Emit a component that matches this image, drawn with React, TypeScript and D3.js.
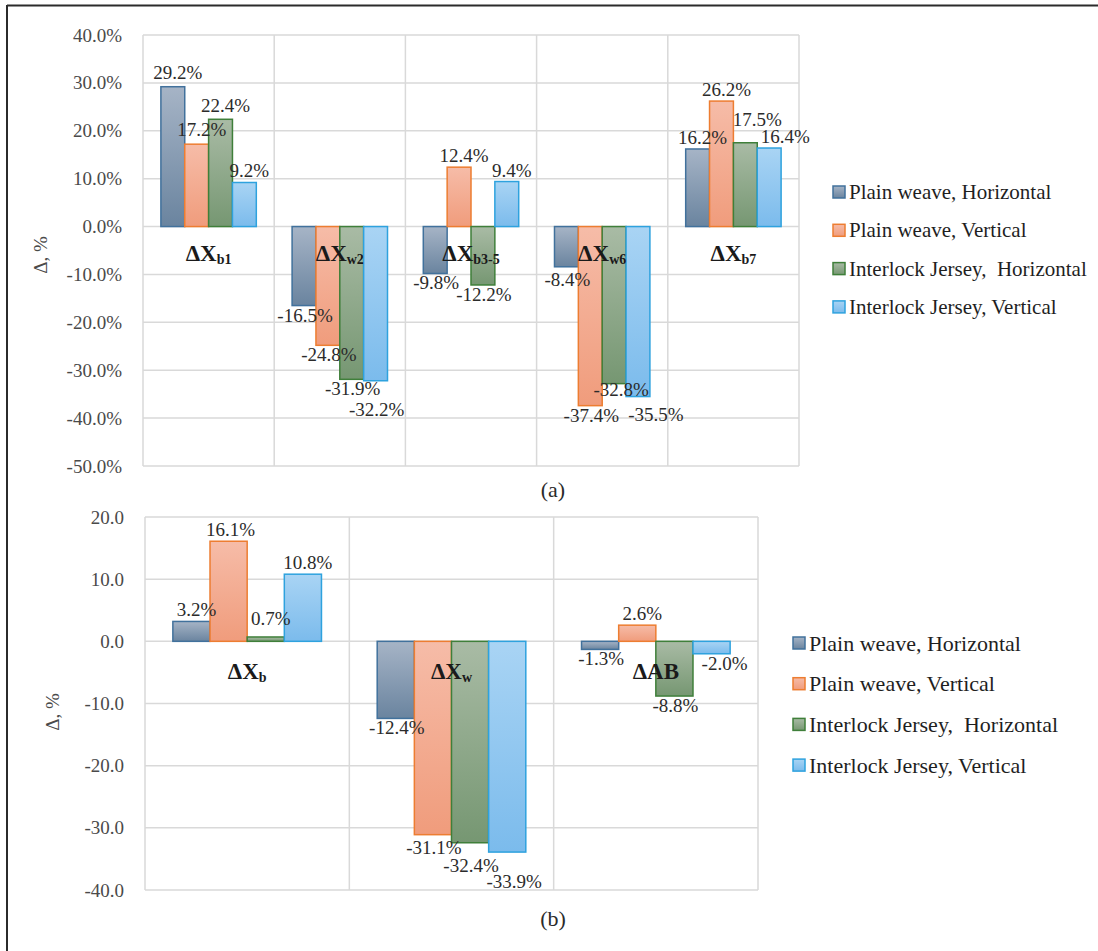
import React from "react";
import * as d3 from "d3";

// Series shared by both panels
const seriesNames = [
  "Plain weave, Horizontal",
  "Plain weave, Vertical",
  "Interlock Jersey,  Horizontal",
  "Interlock Jersey, Vertical",
];

// Panel (a): individual colour-coordinate changes
const topCatMain = ["ΔX", "ΔX", "ΔX", "ΔX", "ΔX"];
const topCatSub = ["b1", "w2", "b3-5", "w6", "b7"];
const topPlainH = [29.2, -16.5, -9.8, -8.4, 16.2];
const topPlainV = [17.2, -24.8, 12.4, -37.4, 26.2];
const topInterH = [22.4, -31.9, -12.2, -32.8, 17.5];
const topInterV = [9.2, -32.2, 9.4, -35.5, 16.4];
const topTicks = [40, 30, 20, 10, 0, -10, -20, -30, -40, -50];

// Panel (b): aggregated changes
const botCatMain = ["ΔX", "ΔX", "ΔAB"];
const botCatSub = ["b", "w", ""];
const botPlainH = [3.2, -12.4, -1.3];
const botPlainV = [16.1, -31.1, 2.6];
const botInterH = [0.7, -32.4, -8.8];
const botInterV = [10.8, -33.9, -2.0];
const botTicks = [20, 10, 0, -10, -20, -30, -40];

const palette = [
  { stroke: "#41719c", top: "#a6b4c6", bottom: "#6a849f" },
  { stroke: "#ed7d31", top: "#f6bca8", bottom: "#f09c7c" },
  { stroke: "#3f7f3a", top: "#a9bba5", bottom: "#769772" },
  { stroke: "#2ea2de", top: "#a9d4f4", bottom: "#7bbbec" },
];

const FONT = '"Liberation Serif", Tinos, "Times New Roman", "DejaVu Serif", serif';
const serif = { fontFamily: FONT };

type Nudge = { s: number; c: number; dx?: number; dy?: number };

// Small manual offsets for data labels that would otherwise collide
const topNudges: Nudge[] = [
  { s: 0, c: 0, dy: -3 },
  { s: 1, c: 0, dy: -3 },
  { s: 2, c: 0, dy: -2 },
  { s: 3, c: 1, dy: 19 },
  { s: 0, c: 3, dy: 3 },
  { s: 2, c: 3, dx: 6, dy: -4 },
  { s: 3, c: 3, dx: 17, dy: 8 },
  { s: 2, c: 4, dx: 7, dy: -12 },
  { s: 3, c: 4, dx: 11 },
];

const botNudges: Nudge[] = [
  { s: 1, c: 0, dx: -3 },
  { s: 2, c: 0, dy: -7 },
  { s: 1, c: 1, dy: 3 },
  { s: 2, c: 1, dy: 13 },
  { s: 3, c: 1, dx: 6, dy: 20 },
  { s: 3, c: 2, dx: 12 },
];

type PanelProps = {
  id: string;
  left: number;
  right: number;
  top: number;
  bottom: number;
  domain: [number, number];
  ticks: number[];
  fmt: (v: number) => string;
  catMain: string[];
  catSub: string[];
  values: number[][];
  catDy: number;
  nudges: Nudge[];
  legendX: number;
  legendY: number;
  legendStep: number;
  legendFont: number;
  titleX: number;
  titleY: number;
  caption: string;
  captionY: number;
};

function Panel(p: PanelProps) {
  const y = d3.scaleLinear().domain(p.domain).range([p.bottom, p.top]);
  const cats = p.catMain.map((_, i) => i);
  const x0 = d3.scaleBand<number>().domain(cats).range([p.left, p.right]).padding(0);
  const x1 = d3
    .scaleBand<number>()
    .domain([0, 1, 2, 3])
    .range([0, x0.bandwidth()])
    .paddingInner(0)
    .paddingOuter(0.75);
  const bw = x1.bandwidth();
  const zero = y(0);

  const nudge = (s: number, c: number) =>
    p.nudges.find((n) => n.s === s && n.c === c) || { s, c };

  return (
    <g style={serif}>
      <defs>
        {palette.map((col, i) => (
          <linearGradient key={i} id={`${p.id}-g${i}`} x1="0" y1="0" x2="0" y2="1">
            <stop offset="0%" stopColor={col.top} />
            <stop offset="100%" stopColor={col.bottom} />
          </linearGradient>
        ))}
      </defs>

      {/* gridlines */}
      {p.ticks.map((t) => (
        <line key={`h${t}`} x1={p.left} x2={p.right} y1={y(t)} y2={y(t)} stroke="#d9d9d9" strokeWidth={1.5} />
      ))}
      {[...cats.map((c) => x0(c) as number), p.right].map((xv, i) => (
        <line key={`v${i}`} x1={xv} x2={xv} y1={p.top} y2={p.bottom} stroke="#d9d9d9" strokeWidth={1.5} />
      ))}

      {/* tick labels */}
      {p.ticks.map((t) => (
        <text
          key={`t${t}`}
          x={p.left - 21}
          y={y(t)}
          textAnchor="end"
          dominantBaseline="central"
          style={serif}
          fontSize={19}
          fill="#4a4a4a"
        >
          {p.fmt(t)}
        </text>
      ))}

      {/* bars */}
      {p.values.map((vals, s) =>
        vals.map((v, c) => {
          const bx = (x0(c) as number) + (x1(s) as number);
          const yt = Math.min(y(v), zero);
          const h = Math.abs(y(v) - zero);
          return (
            <rect
              key={`b${s}-${c}`}
              x={bx}
              y={yt}
              width={bw}
              height={h}
              fill={`url(#${p.id}-g${s})`}
              stroke={palette[s].stroke}
              strokeWidth={1.5}
            />
          );
        })
      )}

      {/* category labels */}
      {cats.map((c) => (
        <text
          key={`c${c}`}
          x={(x0(c) as number) + x0.bandwidth() / 2}
          y={zero + p.catDy}
          textAnchor="middle"
          style={serif}
          fontWeight="bold"
          fontSize={23}
          fill="#1a1a1a"
        >
          <tspan>{p.catMain[c]}</tspan>
          {p.catSub[c] ? (
            <tspan fontSize={14} dy={3}>
              {p.catSub[c]}
            </tspan>
          ) : null}
        </text>
      ))}

      {/* data labels */}
      {p.values.map((vals, s) =>
        vals.map((v, c) => {
          const n = nudge(s, c);
          const cx = (x0(c) as number) + (x1(s) as number) + bw / 2;
          const base = v >= 0 ? y(v) - 5 : y(v) + 16;
          const dx = v >= 0 ? 5 : 1;
          return (
            <text
              key={`l${s}-${c}`}
              x={cx + dx + (n.dx || 0)}
              y={base + (n.dy || 0)}
              textAnchor="middle"
              style={serif}
              fontSize={19}
              fill="#2b2b2b"
            >
              {`${v.toFixed(1)}%`}
            </text>
          );
        })
      )}

      {/* y axis title */}
      <text
        transform={`translate(${p.titleX},${p.titleY}) rotate(-90)`}
        textAnchor="middle"
        dominantBaseline="central"
        style={serif}
        fontSize={19}
        fill="#4a4a4a"
      >
        Δ, %
      </text>

      {/* legend */}
      {seriesNames.map((name, i) => {
        const cy = p.legendY + i * p.legendStep;
        return (
          <g key={`lg${i}`}>
            <rect
              x={p.legendX}
              y={cy - 6}
              width={12}
              height={12}
              fill={`url(#${p.id}-g${i})`}
              stroke={palette[i].stroke}
              strokeWidth={1.5}
            />
            <text
              x={p.legendX + 16}
              y={cy}
              dominantBaseline="central"
              style={{ ...serif, whiteSpace: "pre" }}
              fontSize={p.legendFont}
              fill="#1f1f1f"
            >
              {name}
            </text>
          </g>
        );
      })}

      {/* panel caption */}
      <text x={553} y={p.captionY} textAnchor="middle" style={serif} fontSize={22} fill="#2b2b2b">
        {p.caption}
      </text>
    </g>
  );
}

export default function App() {
  const W = 1098;
  const H = 951;
  return (
    <svg
      width={W}
      height={H}
      viewBox={`0 0 ${W} ${H}`}
      style={{ position: "absolute", left: 0, top: 0, background: "#ffffff", fontFamily: FONT }}
    >
      <rect x={0} y={0} width={W} height={H} fill="#ffffff" />
      <line x1={7} x2={W} y1={5.5} y2={5.5} stroke="#2b2b2b" strokeWidth={2} />
      <line x1={7} x2={7} y1={5} y2={H} stroke="#2b2b2b" strokeWidth={2} />

      <Panel
        id="a"
        left={143}
        right={799}
        top={35}
        bottom={466}
        domain={[-50, 40]}
        ticks={topTicks}
        fmt={(v) => `${v.toFixed(1)}%`}
        catMain={topCatMain}
        catSub={topCatSub}
        values={[topPlainH, topPlainV, topInterH, topInterV]}
        catDy={34}
        nudges={topNudges}
        legendX={833}
        legendY={192}
        legendStep={38.3}
        legendFont={21}
        titleX={40}
        titleY={255}
        caption="(a)"
        captionY={497}
      />

      <Panel
        id="b"
        left={145}
        right={758}
        top={517}
        bottom={890}
        domain={[-40, 20]}
        ticks={botTicks}
        fmt={(v) => v.toFixed(1)}
        catMain={botCatMain}
        catSub={botCatSub}
        values={[botPlainH, botPlainV, botInterH, botInterV]}
        catDy={38}
        nudges={botNudges}
        legendX={793}
        legendY={643}
        legendStep={40.7}
        legendFont={22}
        titleX={52}
        titleY={712}
        caption="(b)"
        captionY={926}
      />
    </svg>
  );
}
